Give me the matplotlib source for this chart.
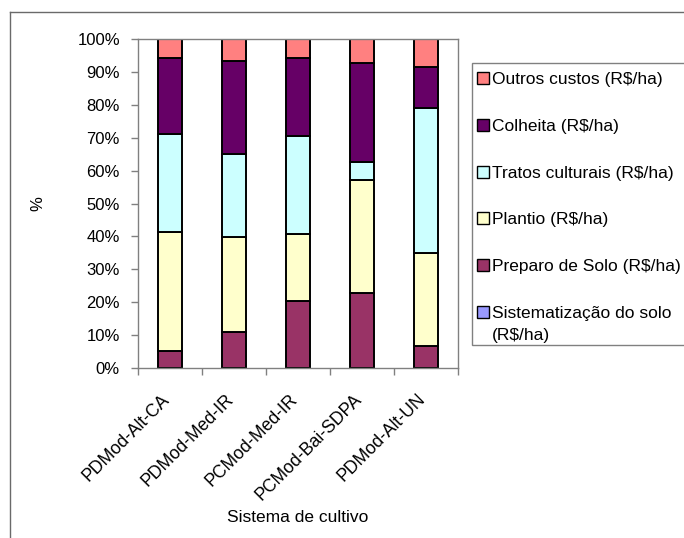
import numpy as np
import matplotlib.pyplot as plt
from matplotlib.patches import Rectangle
from matplotlib.lines import Line2D
from matplotlib.ticker import FixedLocator, FuncFormatter

plt.rcParams['font.family'] = ['Liberation Sans', 'DejaVu Sans']

# ------------------------------------------------------------------
# Participação de cada item no custo total (%), empilhado de baixo p/ cima
sistemas = ["PDMod-Alt-CA", "PDMod-Med-IR", "PCMod-Med-IR", "PCMod-Bai-SDPA", "PDMod-Alt-UN"]

sistematizacao = [0.0, 0.0, 0.0, 0.0, 0.0]
preparo = [5.1, 10.8, 20.5, 22.9, 6.8]
plantio = [36.2, 29.1, 20.3, 34.2, 28.2]
tratos = [29.8, 25.0, 29.8, 5.4, 44.1]
colheita = [23.1, 28.3, 23.6, 30.2, 12.5]
outros = [5.8, 6.8, 5.8, 7.3, 8.4]

itens = ["Sistematização do solo\n(R$/ha)", "Preparo de Solo (R$/ha)", "Plantio (R$/ha)",
         "Tratos culturais (R$/ha)", "Colheita (R$/ha)", "Outros custos (R$/ha)"]
cores = ["#9999FF", "#993366", "#FFFFCC", "#CCFFFF", "#660066", "#FF8080"]

# ------------------------------------------------------------------
W, H = 684, 538
fig = plt.figure(figsize=(W / 100, H / 100), dpi=100)
ax = fig.add_axes([138 / W, 1 - 368 / H, 320 / W, 329 / H])

x = np.arange(len(sistemas))
base = np.zeros(len(sistemas))
for vals, cor in zip([sistematizacao, preparo, plantio, tratos, colheita, outros], cores):
    ax.bar(x, vals, bottom=base, width=0.39, color=cor, edgecolor="black", linewidth=1.4, zorder=2)
    base += np.array(vals)

# ---------- Eixos ----------
cinza = "#808080"
for s in ax.spines.values():
    s.set_color(cinza)
    s.set_linewidth(1.0)

ax.set_xlim(-0.5, len(sistemas) - 0.5)
ax.set_ylim(0, 100)
ax.set_yticks(np.arange(0, 101, 10))
ax.yaxis.set_major_formatter(FuncFormatter(lambda v, _: f"{v:.0f}%"))
ax.tick_params(axis="y", length=5, width=1, color=cinza, pad=8, labelsize=12)

ax.set_xticks(x)
ax.set_xticklabels(sistemas)
ax.xaxis.set_minor_locator(FixedLocator(np.arange(-0.5, len(sistemas), 1.0)))
ax.tick_params(axis="x", which="major", length=0, pad=23, labelsize=12.7)
ax.tick_params(axis="x", which="minor", length=5, width=1, color=cinza)
for lab in ax.get_xticklabels():
    lab.set_rotation(45)
    lab.set_ha("right")
    lab.set_va("baseline")
    lab.set_rotation_mode("anchor")

ax.set_ylabel("%", fontsize=12)
ax.yaxis.set_label_coords(-0.3125, 0.5)
ax.yaxis.label.set_va("center")
ax.set_xlabel("Sistema de cultivo", fontsize=12.5)
ax.xaxis.set_label_coords(0.5, -0.453)
ax.xaxis.label.set_va("center")

# ---------- Legenda (ordem inversa ao empilhamento) ----------
leg_top, leg_bot, leg_left = 63, 345, 472
fig.add_artist(Rectangle((leg_left / W, 1 - leg_bot / H), 1.0, (leg_bot - leg_top) / H,
                         transform=fig.transFigure, facecolor="white", edgecolor=cinza, lw=1.0))
row0, step, sq = 78, 46.8, 12
for i, (nome, cor) in enumerate(zip(itens[::-1], cores[::-1])):
    yc = row0 + i * step
    fig.add_artist(Rectangle((477 / W, 1 - (yc + sq / 2) / H), sq / W, sq / H,
                             transform=fig.transFigure, facecolor=cor, edgecolor="black", lw=1.0))
    # rótulo longo quebra em duas linhas, quadrado alinhado com a primeira
    for j, linha in enumerate(nome.split("\n")):
        fig.text(492 / W, 1 - (yc + 6 + 22 * j) / H, linha, fontsize=12.5, ha="left", va="baseline")

# ---------- Moldura externa ----------
fig.add_artist(Line2D([10 / W, 10 / W], [0, 1 - 12 / H], transform=fig.transFigure, color="#6a6a6a", lw=1.0))
fig.add_artist(Line2D([10 / W, 1], [1 - 12 / H, 1 - 12 / H], transform=fig.transFigure, color="#6a6a6a", lw=1.0))

fig.savefig("out.png", dpi=100)
